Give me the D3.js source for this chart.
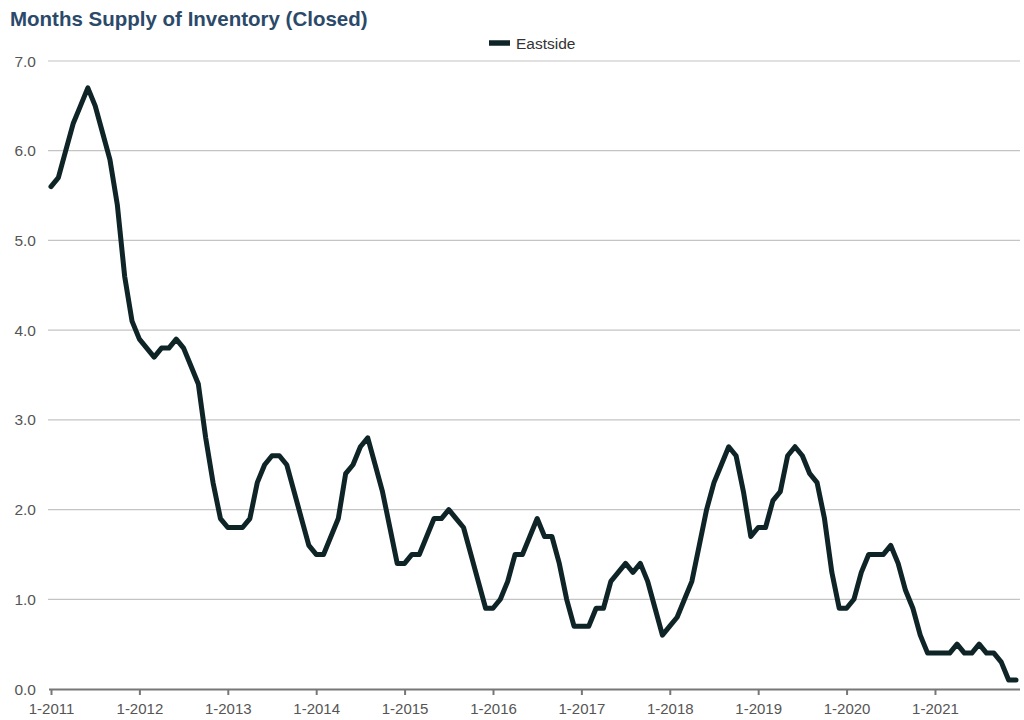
<!DOCTYPE html>
<html>
<head>
<meta charset="utf-8">
<script src="https://cdn.jsdelivr.net/npm/d3@7"></script>
<style>
  html, body { margin: 0; padding: 0; background: #fff; }
  svg { display: block; }
</style>
</head>
<body>
<svg id="chart" width="1024" height="720"></svg>
<script>
const title = "Months Supply of Inventory (Closed)";
const seriesName = "Eastside";
const years = [2011, 2012, 2013, 2014, 2015, 2016, 2017, 2018, 2019, 2020, 2021];
const tickLabels = ["1-2011","1-2012","1-2013","1-2014","1-2015","1-2016","1-2017","1-2018","1-2019","1-2020","1-2021"];
const yTicks = [0, 1, 2, 3, 4, 5, 6, 7];
const values2011 = [5.6,5.7,6.0,6.3,6.5,6.7,6.5,6.2,5.9,5.4,4.6,4.1];
const values2012 = [3.9,3.8,3.7,3.8,3.8,3.9,3.8,3.6,3.4,2.8,2.3,1.9];
const values2013 = [1.8,1.8,1.8,1.9,2.3,2.5,2.6,2.6,2.5,2.2,1.9,1.6];
const values2014 = [1.5,1.5,1.7,1.9,2.4,2.5,2.7,2.8,2.5,2.2,1.8,1.4];
const values2015 = [1.4,1.5,1.5,1.7,1.9,1.9,2.0,1.9,1.8,1.5,1.2,0.9];
const values2016 = [0.9,1.0,1.2,1.5,1.5,1.7,1.9,1.7,1.7,1.4,1.0,0.7];
const values2017 = [0.7,0.7,0.9,0.9,1.2,1.3,1.4,1.3,1.4,1.2,0.9,0.6];
const values2018 = [0.7,0.8,1.0,1.2,1.6,2.0,2.3,2.5,2.7,2.6,2.2,1.7];
const values2019 = [1.8,1.8,2.1,2.2,2.6,2.7,2.6,2.4,2.3,1.9,1.3,0.9];
const values2020 = [0.9,1.0,1.3,1.5,1.5,1.5,1.6,1.4,1.1,0.9,0.6,0.4];
const values2021 = [0.4,0.4,0.4,0.5,0.4,0.4,0.5,0.4,0.4,0.3,0.1,0.1];

const yearly = [values2011, values2012, values2013, values2014, values2015, values2016,
                values2017, values2018, values2019, values2020, values2021];
const data = [];
yearly.forEach((arr, yi) => arr.forEach((v, m) => data.push({ idx: yi * 12 + m, value: v })));

const svg = d3.select("#chart");
const font = "'Liberation Sans', Arial, Helvetica, sans-serif";

const x = d3.scaleLinear().domain([0, data.length - 1]).range([51, 1016]);
const y = d3.scaleLinear().domain([0, 7]).range([689, 61]);

// Title
svg.append("text")
  .attr("x", 10).attr("y", 26)
  .attr("font-family", font).attr("font-size", 20.5).attr("font-weight", "bold")
  .attr("fill", "#2b4a6a")
  .text(title);

// Legend
svg.append("line")
  .attr("x1", 489).attr("x2", 510).attr("y1", 43).attr("y2", 43)
  .attr("stroke", "#0e2427").attr("stroke-width", 5.5);
svg.append("text")
  .attr("x", 516).attr("y", 48.5)
  .attr("font-family", font).attr("font-size", 15.5).attr("fill", "#333")
  .text(seriesName);

// Gridlines
svg.append("g")
  .selectAll("line")
  .data(yTicks.filter(d => d > 0))
  .join("line")
  .attr("x1", 48).attr("x2", 1020)
  .attr("y1", d => y(d)).attr("y2", d => y(d))
  .attr("stroke", "#c4c4c4").attr("stroke-width", 1.2);

// Y labels
svg.append("g")
  .selectAll("text")
  .data(yTicks)
  .join("text")
  .attr("x", 36).attr("y", d => y(d) + 5.5)
  .attr("text-anchor", "end")
  .attr("font-family", font).attr("font-size", 15.5).attr("fill", "#555")
  .text(d => d.toFixed(1));

// X axis
const xAxis = d3.axisBottom(x)
  .tickValues(years.map((yr, i) => i * 12))
  .tickFormat((d, i) => tickLabels[i])
  .tickSize(6)
  .tickSizeOuter(0);
const gx = svg.append("g").attr("transform", "translate(0,689)").call(xAxis);
gx.select(".domain").attr("d", "M49,0.5H1020").attr("stroke", "#777").attr("stroke-width", 2);
gx.selectAll(".tick line").attr("stroke", "#777").attr("stroke-width", 2);
gx.selectAll(".tick text")
  .attr("font-family", font).attr("font-size", 15).attr("fill", "#555")
  .attr("y", 14)
  .attr("dy", "0.71em");

// Line
const line = d3.line().x(d => x(d.idx)).y(d => y(d.value)).curve(d3.curveLinear);
svg.append("path")
  .datum(data)
  .attr("d", line)
  .attr("fill", "none")
  .attr("stroke", "#0e2427")
  .attr("stroke-width", 5)
  .attr("stroke-linejoin", "round")
  .attr("stroke-linecap", "round");
</script>
</body>
</html>
